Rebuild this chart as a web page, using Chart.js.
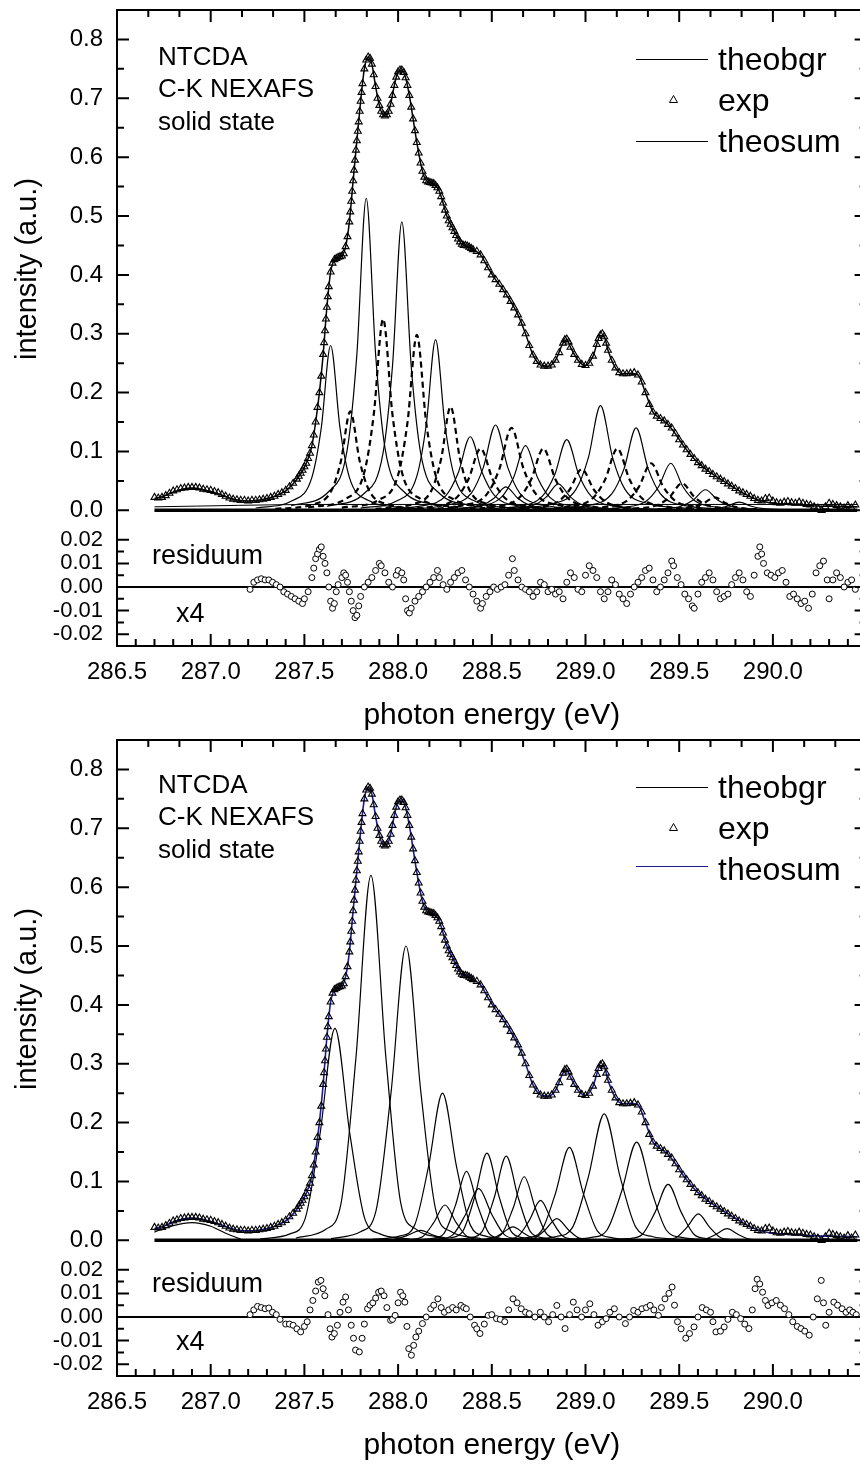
<!DOCTYPE html>
<html>
<head>
<meta charset="utf-8">
<script src="https://cdn.jsdelivr.net/npm/chart.js@4.4.1/dist/chart.umd.min.js"></script>
<style>
body { margin: 0; width: 860px; height: 1464px; overflow: hidden; background: #fff; font-family: "Liberation Sans", Arial, sans-serif; }
canvas { position: absolute; left: 0; }
.txt { position: absolute; white-space: nowrap; line-height: 1; color: #000; }
.lg { position: absolute; height: 0; width: 72px; left: 636px; }
</style>
</head>
<body>
<canvas id="main1" width="880" height="528" style="top:0"></canvas>
<canvas id="res1" width="880" height="206" style="top:528px"></canvas>
<canvas id="main2" width="880" height="528" style="top:730px"></canvas>
<canvas id="res2" width="880" height="206" style="top:1258px"></canvas>

<!-- panel 1 labels -->
<div class="txt" style="left:158px;top:43px;font-size:26px">NTCDA</div>
<div class="txt" style="left:158px;top:75px;font-size:26px">C-K NEXAFS</div>
<div class="txt" style="left:158px;top:108px;font-size:26px">solid state</div>
<div class="lg" style="top:59px;border-top:1px solid #000"></div>
<svg style="position:absolute;left:669px;top:95px" width="9" height="8"><polygon points="4.5,0.5 8.5,7.5 0.5,7.5" fill="none" stroke="#000" stroke-width="1"/></svg>
<div class="lg" style="top:141px;border-top:1.5px solid #000"></div>
<div class="txt" style="left:718px;top:43px;font-size:32px">theobgr</div>
<div class="txt" style="left:718px;top:84px;font-size:32px">exp</div>
<div class="txt" style="left:718px;top:125px;font-size:32px">theosum</div>
<div class="txt" style="left:152px;top:542px;font-size:27px">residuum</div>
<div class="txt" style="left:176px;top:600px;font-size:27px">x4</div>

<!-- panel 2 labels -->
<div class="txt" style="left:158px;top:771px;font-size:26px">NTCDA</div>
<div class="txt" style="left:158px;top:803px;font-size:26px">C-K NEXAFS</div>
<div class="txt" style="left:158px;top:836px;font-size:26px">solid state</div>
<div class="lg" style="top:787px;border-top:1px solid #000"></div>
<svg style="position:absolute;left:669px;top:823px" width="9" height="8"><polygon points="4.5,0.5 8.5,7.5 0.5,7.5" fill="none" stroke="#000" stroke-width="1"/></svg>
<div class="lg" style="top:866px;border-top:1.5px solid #1c1c8c"></div>
<div class="txt" style="left:718px;top:771px;font-size:32px">theobgr</div>
<div class="txt" style="left:718px;top:812px;font-size:32px">exp</div>
<div class="txt" style="left:718px;top:853px;font-size:32px">theosum</div>
<div class="txt" style="left:152px;top:1270px;font-size:27px">residuum</div>
<div class="txt" style="left:176px;top:1328px;font-size:27px">x4</div>

<script>
// axis ticks
const mainYMajor = [0, 0.1, 0.2, 0.3, 0.4, 0.5, 0.6, 0.7, 0.8];
const mainYMinor = [0.05, 0.15, 0.25, 0.35, 0.45, 0.55, 0.65, 0.75];
const resYMajor = [-0.02, -0.01, 0, 0.01, 0.02];
const resYMinor = [-0.015, -0.005, 0.005, 0.015];
const xLabels = [286.5, 287.0, 287.5, 288.0, 288.5, 289.0, 289.5, 290.0];
const xMajor = [286.5, 287.0, 287.5, 288.0, 288.5, 289.0, 289.5, 290.0, 290.5];
const xMinor = [286.6, 286.7, 286.8, 286.9, 287.1, 287.2, 287.3, 287.4, 287.6, 287.7, 287.8, 287.9,
  288.1, 288.2, 288.3, 288.4, 288.6, 288.7, 288.8, 288.9, 289.1, 289.2, 289.3, 289.4,
  289.6, 289.7, 289.8, 289.9, 290.1, 290.2, 290.3, 290.4];
const xTopMinor = [286.667, 286.833, 287.167, 287.333, 287.667, 287.833, 288.167, 288.333,
  288.667, 288.833, 289.167, 289.333, 289.667, 289.833, 290.167, 290.333];

// measured spectrum (photon energy, intensity)
const expData = [
  [286.70,0.022],[286.72,0.021],[286.74,0.022],[286.76,0.025],[286.78,0.029],[286.80,0.033],[286.82,0.035],[286.84,0.037],
  [286.86,0.038],[286.88,0.039],[286.90,0.039],[286.92,0.039],[286.94,0.038],[286.96,0.036],[286.98,0.035],[287.00,0.034],
  [287.02,0.032],[287.04,0.030],[287.06,0.027],[287.08,0.024],[287.10,0.021],[287.12,0.019],[287.14,0.018],[287.16,0.017],
  [287.18,0.017],[287.20,0.016],[287.22,0.017],[287.24,0.017],[287.26,0.018],[287.28,0.019],[287.30,0.020],[287.32,0.022],
  [287.34,0.024],[287.36,0.027],[287.38,0.030],[287.40,0.034],[287.42,0.040],[287.44,0.046],[287.46,0.053],[287.47,0.058],
  [287.48,0.063],[287.49,0.068],[287.50,0.074],[287.51,0.080],[287.52,0.088],[287.53,0.097],[287.54,0.110],[287.55,0.128],
  [287.56,0.150],[287.57,0.175],[287.58,0.200],[287.59,0.228],[287.60,0.265],[287.605,0.285],[287.61,0.305],[287.615,0.325],
  [287.62,0.345],[287.625,0.363],[287.63,0.380],[287.64,0.405],[287.65,0.420],[287.66,0.426],[287.67,0.428],[287.68,0.430],
  [287.69,0.431],[287.70,0.432],[287.71,0.436],[287.72,0.448],[287.73,0.465],[287.74,0.490],[287.745,0.507],[287.75,0.525],
  [287.755,0.542],[287.76,0.560],[287.765,0.578],[287.77,0.595],[287.775,0.612],[287.78,0.628],[287.785,0.644],[287.79,0.660],
  [287.795,0.678],[287.80,0.695],[287.805,0.710],[287.81,0.725],[287.82,0.750],[287.83,0.765],[287.84,0.770],[287.85,0.768],
  [287.86,0.758],[287.87,0.740],[287.88,0.720],[287.89,0.700],[287.90,0.688],[287.91,0.678],[287.92,0.672],[287.93,0.670],
  [287.94,0.672],[287.95,0.678],[287.96,0.690],[287.97,0.705],[287.98,0.722],[287.99,0.736],[288.00,0.745],[288.01,0.748],
  [288.02,0.748],[288.03,0.744],[288.04,0.735],[288.05,0.722],[288.06,0.705],[288.07,0.685],[288.08,0.665],[288.09,0.645],
  [288.10,0.625],[288.11,0.607],[288.12,0.590],[288.13,0.576],[288.14,0.566],[288.15,0.560],[288.16,0.558],[288.17,0.557],
  [288.18,0.556],[288.19,0.555],[288.20,0.552],[288.21,0.548],[288.22,0.542],[288.23,0.533],[288.24,0.522],[288.25,0.510],
  [288.26,0.500],[288.27,0.492],[288.28,0.486],[288.29,0.480],[288.30,0.474],[288.31,0.467],[288.32,0.461],[288.33,0.456],
  [288.34,0.452],[288.35,0.450],[288.36,0.450],[288.37,0.449],[288.38,0.447],[288.39,0.445],[288.40,0.443],[288.42,0.440],
  [288.44,0.434],[288.46,0.424],[288.48,0.412],[288.50,0.400],[288.52,0.392],[288.54,0.384],[288.56,0.375],[288.58,0.366],
  [288.60,0.355],[288.62,0.344],[288.64,0.332],[288.66,0.318],[288.68,0.300],[288.70,0.280],[288.72,0.264],[288.74,0.253],
  [288.76,0.247],[288.78,0.245],[288.80,0.245],[288.82,0.247],[288.84,0.255],[288.86,0.268],[288.88,0.284],[288.89,0.290],
  [288.90,0.291],[288.91,0.286],[288.92,0.277],[288.94,0.265],[288.96,0.255],[288.98,0.248],[289.00,0.246],[289.02,0.250],
  [289.04,0.262],[289.06,0.282],[289.07,0.292],[289.08,0.298],[289.09,0.300],[289.10,0.295],[289.11,0.284],[289.12,0.272],
  [289.14,0.255],[289.16,0.242],[289.18,0.234],[289.20,0.232],[289.22,0.232],[289.24,0.233],[289.26,0.234],[289.28,0.230],
  [289.30,0.218],[289.32,0.200],[289.34,0.180],[289.36,0.167],[289.38,0.160],[289.40,0.156],[289.42,0.152],[289.44,0.146],
  [289.46,0.140],[289.48,0.130],[289.50,0.120],[289.52,0.111],[289.54,0.103],[289.56,0.095],[289.58,0.088],[289.60,0.081],
  [289.62,0.076],[289.64,0.070],[289.66,0.066],[289.68,0.061],[289.70,0.057],[289.72,0.053],[289.74,0.049],[289.76,0.045],
  [289.78,0.041],[289.80,0.037],[289.82,0.033],[289.84,0.030],[289.86,0.027],[289.88,0.024],[289.90,0.020],[289.92,0.017],
  [289.94,0.016],[289.96,0.020],[289.98,0.021],[290.00,0.016],[290.02,0.013],[290.04,0.012],[290.06,0.014],[290.08,0.015],
  [290.10,0.013],[290.12,0.012],[290.14,0.014],[290.16,0.012],[290.18,0.010],[290.20,0.009],[290.22,0.006],[290.24,0.004],
  [290.26,0.000],[290.28,0.006],[290.30,0.012],[290.32,0.010],[290.34,0.008],[290.36,0.006],[290.38,0.004],[290.40,0.008],
  [290.42,0.004],[290.44,0.009]
];

// fitted sum
const theoSum = [
  [286.70,0.020],[286.75,0.024],[286.80,0.031],[286.85,0.036],[286.90,0.038],[286.95,0.036],[287.00,0.032],[287.05,0.027],
  [287.10,0.021],[287.15,0.017],[287.20,0.016],[287.25,0.017],[287.30,0.020],[287.35,0.025],[287.40,0.033],[287.44,0.045],
  [287.48,0.062],[287.50,0.073],[287.52,0.088],[287.54,0.110],[287.56,0.150],[287.58,0.200],[287.60,0.265],[287.62,0.345],
  [287.64,0.405],[287.66,0.426],[287.68,0.430],[287.70,0.432],[287.72,0.448],[287.74,0.490],[287.76,0.560],[287.78,0.628],
  [287.80,0.695],[287.82,0.750],[287.84,0.770],[287.86,0.758],[287.88,0.720],[287.90,0.688],[287.92,0.672],[287.94,0.672],
  [287.96,0.690],[287.98,0.722],[288.00,0.745],[288.02,0.748],[288.04,0.735],[288.06,0.705],[288.08,0.665],[288.10,0.625],
  [288.12,0.590],[288.14,0.566],[288.16,0.558],[288.18,0.556],[288.20,0.552],[288.22,0.542],[288.24,0.522],[288.26,0.500],
  [288.28,0.486],[288.30,0.474],[288.32,0.461],[288.34,0.452],[288.36,0.450],[288.38,0.447],[288.40,0.443],[288.44,0.434],
  [288.48,0.412],[288.52,0.392],[288.56,0.375],[288.60,0.355],[288.64,0.332],[288.68,0.300],[288.72,0.264],[288.76,0.247],
  [288.80,0.245],[288.84,0.255],[288.88,0.284],[288.90,0.290],[288.92,0.277],[288.96,0.255],[289.00,0.246],[289.04,0.262],
  [289.08,0.297],[289.10,0.295],[289.12,0.272],[289.16,0.242],[289.20,0.232],[289.24,0.233],[289.28,0.230],[289.32,0.200],
  [289.36,0.167],[289.40,0.156],[289.44,0.146],[289.48,0.130],[289.52,0.111],[289.56,0.095],[289.60,0.081],[289.65,0.068],
  [289.70,0.057],[289.75,0.047],[289.80,0.037],[289.85,0.028],[289.90,0.020],[289.95,0.015],[290.00,0.012],[290.10,0.010],
  [290.20,0.008],[290.30,0.007],[290.45,0.006]
];

const theoBgr1 = [[286.70,0.006],[287.60,0.010],[290.45,0.010]];
const baseLine = [[286.70,0],[290.45,0]];
const zeroLine = [[286.5,0],[290.5,0]];

// upper fit: solid components
const solid1 = [
  [[287.24,0.004],[287.44,0.017],[287.54,0.056],[287.59,0.14],[287.64,0.28],[287.69,0.14],[287.74,0.056],[287.84,0.017],[288.04,0.004]],
  [[287.43,0.008],[287.63,0.032],[287.73,0.106],[287.78,0.265],[287.83,0.53],[287.88,0.265],[287.93,0.106],[288.03,0.032],[288.23,0.008]],
  [[287.62,0.007],[287.82,0.029],[287.92,0.098],[287.97,0.245],[288.02,0.49],[288.07,0.245],[288.12,0.098],[288.22,0.029],[288.42,0.007]],
  [[287.80,0.004],[288.00,0.017],[288.10,0.058],[288.15,0.145],[288.20,0.29],[288.25,0.145],[288.30,0.058],[288.40,0.017],[288.60,0.004]],
  [[287.885,0.002],[288.125,0.0075],[288.255,0.025],[288.32,0.063],[288.385,0.125],[288.45,0.063],[288.515,0.025],[288.645,0.0075],[288.885,0.002]],
  [[288.02,0.002],[288.26,0.009],[288.39,0.029],[288.455,0.073],[288.52,0.145],[288.585,0.073],[288.65,0.029],[288.78,0.009],[289.02,0.002]],
  [[288.18,0.002],[288.42,0.007],[288.55,0.022],[288.615,0.055],[288.68,0.11],[288.745,0.055],[288.81,0.022],[288.94,0.007],[289.18,0.002]],
  [[288.40,0.002],[288.64,0.007],[288.77,0.024],[288.835,0.06],[288.90,0.12],[288.965,0.06],[289.03,0.024],[289.16,0.007],[289.40,0.002]],
  [[288.58,0.003],[288.82,0.011],[288.95,0.036],[289.015,0.089],[289.08,0.178],[289.145,0.089],[289.21,0.036],[289.34,0.011],[289.58,0.003]],
  [[288.77,0.002],[289.01,0.008],[289.14,0.028],[289.205,0.07],[289.27,0.14],[289.335,0.07],[289.40,0.028],[289.53,0.008],[289.77,0.002]],
  [[288.955,0.001],[289.195,0.005],[289.325,0.016],[289.39,0.04],[289.455,0.08],[289.52,0.04],[289.585,0.016],[289.715,0.005],[289.955,0.001]],
  [[289.38,0.002],[289.51,0.007],[289.575,0.0175],[289.64,0.035],[289.705,0.0175],[289.77,0.007],[289.90,0.002]],
  [[289.56,0.001],[289.69,0.003],[289.755,0.007],[289.82,0.014],[289.885,0.007],[289.95,0.003],[290.08,0.001]],
  [[288.315,0.002],[288.445,0.008],[288.51,0.02],[288.575,0.04],[288.64,0.02],[288.705,0.008],[288.835,0.002]],
  [[288.595,0.003],[288.725,0.009],[288.79,0.0225],[288.855,0.045],[288.92,0.0225],[288.985,0.009],[289.115,0.003]]
];

// upper fit: dashed components
const dashed1 = [
  [[287.345,0.0025],[287.545,0.01],[287.645,0.034],[287.695,0.084],[287.745,0.168],[287.795,0.084],[287.845,0.034],[287.945,0.01],[288.145,0.0025]],
  [[287.52,0.005],[287.72,0.0195],[287.82,0.065],[287.87,0.1625],[287.92,0.325],[287.97,0.1625],[288.02,0.065],[288.12,0.0195],[288.32,0.005]],
  [[287.70,0.0045],[287.90,0.018],[288.00,0.06],[288.05,0.149],[288.10,0.298],[288.15,0.149],[288.20,0.06],[288.30,0.018],[288.50,0.0045]],
  [[287.88,0.0026],[288.08,0.0106],[288.18,0.035],[288.23,0.088],[288.28,0.176],[288.33,0.088],[288.38,0.035],[288.48,0.0106],[288.68,0.0026]],
  [[287.94,0.0016],[288.18,0.0063],[288.31,0.021],[288.375,0.0525],[288.44,0.105],[288.505,0.0525],[288.57,0.021],[288.70,0.0063],[288.94,0.0016]],
  [[288.105,0.002],[288.345,0.0084],[288.475,0.028],[288.54,0.07],[288.605,0.14],[288.67,0.07],[288.735,0.028],[288.865,0.0084],[289.105,0.002]],
  [[288.275,0.0016],[288.515,0.0063],[288.645,0.021],[288.71,0.0525],[288.775,0.105],[288.84,0.0525],[288.905,0.021],[289.035,0.0063],[289.275,0.0016]],
  [[288.72,0.004],[288.85,0.014],[288.915,0.035],[288.98,0.07],[289.045,0.035],[289.11,0.014],[289.24,0.004]],
  [[288.67,0.0016],[288.91,0.0063],[289.04,0.021],[289.105,0.0525],[289.17,0.105],[289.235,0.0525],[289.30,0.021],[289.43,0.0063],[289.67,0.0016]],
  [[289.09,0.005],[289.22,0.016],[289.285,0.04],[289.35,0.08],[289.415,0.04],[289.48,0.016],[289.61,0.005]],
  [[289.255,0.003],[289.385,0.009],[289.45,0.023],[289.515,0.046],[289.58,0.023],[289.645,0.009],[289.775,0.003]],
  [[289.43,0.0013],[289.56,0.0044],[289.625,0.011],[289.69,0.022],[289.755,0.011],[289.82,0.0044],[289.95,0.0013]]
];

// lower fit: components
const solid2 = [
  [[286.70,0.014],[286.80,0.025],[286.90,0.030],[287.00,0.024],[287.08,0.012],[287.16,0.002]],
  [[287.263,0.002],[287.423,0.011],[287.503,0.036],[287.583,0.18],[287.663,0.36],[287.743,0.18],[287.823,0.036],[287.903,0.011],[288.063,0.002]],
  [[287.455,0.004],[287.615,0.019],[287.695,0.062],[287.775,0.31],[287.855,0.62],[287.935,0.31],[288.015,0.062],[288.095,0.019],[288.255,0.004]],
  [[287.642,0.003],[287.802,0.015],[287.882,0.05],[287.962,0.25],[288.042,0.5],[288.122,0.25],[288.202,0.05],[288.282,0.015],[288.442,0.003]],
  [[287.862,0.0015],[288.012,0.0075],[288.087,0.025],[288.162,0.125],[288.237,0.25],[288.312,0.125],[288.387,0.025],[288.462,0.0075],[288.612,0.0015]],
  [[287.91,0.0005],[287.98,0.0017],[288.05,0.0085],[288.12,0.017],[288.19,0.0085],[288.26,0.0017],[288.33,0.0005]],
  [[287.95,0.0004],[288.07,0.0018],[288.13,0.006],[288.19,0.03],[288.25,0.06],[288.31,0.03],[288.37,0.006],[288.43,0.0018],[288.55,0.0004]],
  [[288.065,0.0007],[288.185,0.0035],[288.245,0.0117],[288.305,0.0585],[288.365,0.117],[288.425,0.0585],[288.485,0.0117],[288.545,0.0035],[288.665,0.0007]],
  [[288.08,0.0005],[288.22,0.0026],[288.29,0.0088],[288.36,0.044],[288.43,0.088],[288.50,0.044],[288.57,0.0088],[288.64,0.0026],[288.78,0.0005]],
  [[288.149,0.0009],[288.279,0.0044],[288.344,0.0148],[288.409,0.074],[288.474,0.148],[288.539,0.074],[288.604,0.0148],[288.669,0.0044],[288.799,0.0009]],
  [[288.252,0.0009],[288.382,0.0043],[288.447,0.0143],[288.512,0.0715],[288.577,0.143],[288.642,0.0715],[288.707,0.0143],[288.772,0.0043],[288.902,0.0009]],
  [[288.433,0.0007],[288.493,0.0023],[288.553,0.0115],[288.613,0.023],[288.673,0.0115],[288.733,0.0023],[288.793,0.0007]],
  [[288.373,0.0006],[288.493,0.0032],[288.553,0.0108],[288.613,0.054],[288.673,0.108],[288.733,0.054],[288.793,0.0108],[288.853,0.0032],[288.973,0.0006]],
  [[288.46,0.0004],[288.58,0.002],[288.64,0.0068],[288.70,0.034],[288.76,0.068],[288.82,0.034],[288.88,0.0068],[288.94,0.002],[289.06,0.0004]],
  [[288.667,0.0011],[288.727,0.0037],[288.787,0.0185],[288.847,0.037],[288.907,0.0185],[288.967,0.0037],[289.027,0.0011]],
  [[288.539,0.001],[288.689,0.0047],[288.764,0.0158],[288.839,0.079],[288.914,0.158],[288.989,0.079],[289.064,0.0158],[289.139,0.0047],[289.289,0.001]],
  [[288.675,0.0013],[288.845,0.0065],[288.93,0.0215],[289.015,0.1075],[289.10,0.215],[289.185,0.1075],[289.27,0.0215],[289.355,0.0065],[289.525,0.0013]],
  [[288.873,0.001],[289.033,0.005],[289.113,0.0167],[289.193,0.0835],[289.273,0.167],[289.353,0.0835],[289.433,0.0167],[289.513,0.005],[289.673,0.001]],
  [[289.091,0.0006],[289.231,0.0029],[289.301,0.0095],[289.371,0.0475],[289.441,0.095],[289.511,0.0475],[289.581,0.0095],[289.651,0.0029],[289.791,0.0006]],
  [[289.422,0.0014],[289.482,0.0045],[289.542,0.0225],[289.602,0.045],[289.662,0.0225],[289.722,0.0045],[289.782,0.0014]],
  [[289.575,0.0006],[289.635,0.002],[289.695,0.01],[289.755,0.02],[289.815,0.01],[289.875,0.002],[289.935,0.0006]]
];

// residuals (x4)
const resid1 = [
  [287.21,-0.001],[287.23,0.002],[287.25,0.003],[287.27,0.0035],[287.29,0.003],[287.31,0.003],[287.33,0.002],[287.35,0.001],
  [287.37,0.000],[287.39,-0.002],[287.41,-0.003],[287.43,-0.004],[287.45,-0.005],[287.47,-0.006],[287.49,-0.007],[287.50,-0.005],
  [287.52,-0.002],[287.54,0.004],[287.55,0.008],[287.56,0.012],[287.57,0.014],[287.58,0.016],[287.59,0.017],[287.60,0.013],
  [287.61,0.010],[287.62,0.006],[287.63,0.000],[287.64,-0.006],[287.65,-0.009],[287.66,-0.007],[287.67,-0.002],[287.68,0.001],
  [287.70,0.004],[287.71,0.006],[287.72,0.005],[287.73,0.002],[287.74,-0.002],[287.75,-0.006],[287.76,-0.010],[287.77,-0.013],
  [287.78,-0.012],[287.79,-0.008],[287.80,-0.004],[287.82,0.000],[287.84,0.002],[287.86,0.004],[287.88,0.007],[287.90,0.010],
  [287.91,0.009],[287.93,0.006],[287.95,0.002],[287.97,0.000],[287.99,0.005],[288.00,0.007],[288.02,0.006],[288.03,0.003],
  [288.04,-0.005],[288.05,-0.010],[288.06,-0.011],[288.07,-0.009],[288.09,-0.006],[288.11,-0.004],[288.13,-0.002],[288.15,0.000],
  [288.17,0.002],[288.19,0.004],[288.21,0.007],[288.22,0.004],[288.24,0.001],[288.26,-0.001],[288.28,0.002],[288.30,0.004],
  [288.32,0.006],[288.34,0.007],[288.36,0.003],[288.38,0.000],[288.40,-0.003],[288.42,-0.006],[288.44,-0.009],[288.45,-0.007],
  [288.47,-0.004],[288.49,-0.002],[288.51,0.000],[288.53,-0.001],[288.55,0.000],[288.57,0.001],[288.59,0.005],[288.61,0.012],
  [288.62,0.007],[288.64,0.003],[288.66,0.000],[288.68,-0.001],[288.70,-0.002],[288.72,-0.004],[288.74,-0.002],[288.76,0.002],
  [288.78,0.001],[288.80,-0.002],[288.82,-0.001],[288.84,-0.003],[288.86,-0.002],[288.88,-0.005],[288.90,0.002],[288.92,0.006],
  [288.94,0.004],[288.96,-0.001],[288.98,-0.002],[289.00,0.005],[289.02,0.009],[289.04,0.007],[289.06,0.004],[289.08,-0.002],
  [289.10,-0.005],[289.12,-0.002],[289.14,0.003],[289.16,0.001],[289.18,-0.003],[289.20,-0.005],[289.22,-0.007],[289.24,-0.003],
  [289.26,0.000],[289.28,0.002],[289.30,0.004],[289.32,0.007],[289.34,0.008],[289.36,0.003],[289.38,-0.002],[289.40,0.000],
  [289.42,0.003],[289.44,0.006],[289.46,0.011],[289.47,0.009],[289.49,0.004],[289.51,0.001],[289.53,-0.003],[289.55,-0.005],
  [289.57,-0.008],[289.58,-0.009],[289.60,-0.003],[289.62,0.002],[289.64,0.004],[289.66,0.006],[289.68,0.003],[289.70,-0.002],
  [289.72,-0.005],[289.74,-0.004],[289.76,-0.003],[289.78,0.001],[289.80,0.004],[289.82,0.006],[289.84,0.003],[289.86,-0.002],
  [289.88,-0.004],[289.90,0.005],[289.92,0.013],[289.93,0.017],[289.94,0.014],[289.95,0.010],[289.97,0.006],[289.99,0.005],
  [290.01,0.004],[290.03,0.006],[290.05,0.007],[290.07,0.002],[290.09,-0.004],[290.11,-0.003],[290.13,-0.005],[290.15,-0.007],
  [290.17,-0.006],[290.19,-0.009],[290.21,-0.003],[290.23,0.006],[290.25,0.009],[290.27,0.011],[290.29,0.003],[290.30,-0.005],
  [290.32,0.003],[290.34,0.006],[290.36,0.004],[290.38,0.000],[290.40,0.002],[290.42,0.003],[290.44,-0.001]
];

const resid2 = [
  [287.21,0.001],[287.23,0.003],[287.25,0.0045],[287.27,0.004],[287.29,0.0035],[287.31,0.0038],[287.33,0.002],[287.35,0.001],
  [287.37,-0.001],[287.40,-0.003],[287.42,-0.003],[287.44,-0.0035],[287.46,-0.005],[287.48,-0.0063],[287.50,-0.004],[287.515,-0.002],
  [287.53,0.003],[287.545,0.007],[287.56,0.011],[287.574,0.0148],[287.588,0.0155],[287.60,0.012],[287.609,0.009],[287.626,0.001],
  [287.637,-0.005],[287.647,-0.0085],[287.66,-0.007],[287.676,-0.0035],[287.69,0.002],[287.706,0.0063],[287.72,0.0085],[287.735,0.003],
  [287.75,-0.0035],[287.762,-0.009],[287.773,-0.014],[287.793,-0.0148],[287.808,-0.009],[287.82,-0.003],[287.837,0.0035],[287.85,0.005],
  [287.865,0.006],[287.88,0.008],[287.896,0.0105],[287.91,0.011],[287.925,0.009],[287.94,0.004],[287.96,-0.0014],[287.97,-0.001],
  [287.984,0.0007],[288.00,0.006],[288.013,0.0105],[288.025,0.009],[288.036,0.0063],[288.047,-0.004],[288.057,-0.0134],[288.071,-0.0162],
  [288.083,-0.012],[288.095,-0.0085],[288.11,-0.006],[288.13,-0.0028],[288.15,0.000],[288.174,0.0035],[288.19,0.005],[288.212,0.0077],
  [288.23,0.004],[288.247,0.002],[288.27,0.003],[288.291,0.004],[288.31,0.003],[288.335,0.0049],[288.35,0.004],[288.364,0.0035],
  [288.385,0.000],[288.408,-0.0035],[288.42,-0.005],[288.437,-0.007],[288.46,-0.003],[288.481,0.0007],[288.50,0.001],[288.525,-0.0007],
  [288.545,-0.001],[288.569,-0.002],[288.59,0.003],[288.613,0.0077],[288.635,0.006],[288.657,0.0035],[288.68,0.002],[288.70,0.0014],
  [288.73,0.000],[288.759,0.002],[288.78,0.000],[288.803,-0.002],[288.825,0.001],[288.847,0.0049],[288.87,0.000],[288.891,-0.0049],
  [288.915,0.001],[288.935,0.0063],[288.955,0.003],[288.979,0.000],[289.00,0.003],[289.023,0.0056],[289.045,0.001],[289.067,-0.0035],
  [289.09,-0.002],[289.11,-0.0007],[289.13,0.002],[289.154,0.0035],[289.18,0.000],[289.213,-0.0028],[289.235,0.000],[289.257,0.0028],
  [289.28,0.002],[289.301,0.0035],[289.325,0.004],[289.345,0.0049],[289.365,0.003],[289.389,0.0007],[289.405,0.004],[289.424,0.0077],
  [289.445,0.010],[289.462,0.0127],[289.475,0.005],[289.491,-0.002],[289.51,-0.005],[289.535,-0.009],[289.555,-0.007],[289.579,-0.0042],
  [289.60,0.000],[289.623,0.004],[289.645,0.003],[289.667,0.002],[289.68,-0.002],[289.696,-0.0063],[289.72,-0.006],[289.74,-0.0042],
  [289.76,-0.001],[289.784,0.002],[289.805,0.001],[289.828,-0.0007],[289.85,-0.003],[289.872,-0.0049],[289.89,0.003],[289.905,0.012],
  [289.916,0.016],[289.93,0.014],[289.945,0.0105],[289.96,0.007],[289.974,0.0049],[289.995,0.006],[290.018,0.007],[290.04,0.005],
  [290.062,0.0035],[290.085,0.001],[290.106,-0.002],[290.13,-0.004],[290.15,-0.0049],[290.17,-0.006],[290.194,-0.0077],[290.215,0.000],
  [290.237,0.0077],[290.258,0.0155],[290.27,0.006],[290.282,-0.0035],[290.30,0.002],[290.325,0.0063],[290.345,0.005],[290.369,0.0035],
  [290.39,0.002],[290.41,0.003],[290.427,0.002],[290.445,0.001]
];

Chart.defaults.font.family = '"Liberation Sans", Arial, sans-serif';
Chart.defaults.color = '#000';

// frame and inward tick marks, placed with the chart's own scales
const frameTicks = {
  id: 'frameTicks',
  afterDatasetsDraw(chart, args, o) {
    const { ctx, chartArea: a } = chart;
    const x = chart.scales.x, y = chart.scales.y;
    ctx.save();
    ctx.strokeStyle = '#000';
    ctx.lineWidth = 2;
    ctx.beginPath();
    if (o.left) { ctx.moveTo(a.left, a.top); ctx.lineTo(a.left, a.bottom); }
    if (o.right) { ctx.moveTo(a.right, a.top); ctx.lineTo(a.right, a.bottom); }
    if (o.top) { ctx.moveTo(a.left - 1, a.top); ctx.lineTo(a.right, a.top); }
    if (o.bottom) { ctx.moveTo(a.left - 1, a.bottom); ctx.lineTo(a.right, a.bottom); }
    ctx.stroke();

    ctx.beginPath();
    const vert = (t, x0, dir) => {
      t.major.forEach(v => { const p = y.getPixelForValue(v); ctx.moveTo(x0, p); ctx.lineTo(x0 + dir * 12, p); });
      t.minor.forEach(v => { const p = y.getPixelForValue(v); ctx.moveTo(x0, p); ctx.lineTo(x0 + dir * 7, p); });
    };
    const horz = (t, y0, dir) => {
      t.major.forEach(v => { const p = x.getPixelForValue(v); ctx.moveTo(p, y0); ctx.lineTo(p, y0 + dir * 12); });
      t.minor.forEach(v => { const p = x.getPixelForValue(v); ctx.moveTo(p, y0); ctx.lineTo(p, y0 + dir * 7); });
    };
    if (o.left) vert(o.left, a.left, 1);
    if (o.right) vert(o.right, a.right, -1);
    if (o.top) horz(o.top, a.top, 1);
    if (o.bottom) horz(o.bottom, a.bottom, -1);
    ctx.stroke();
    ctx.restore();
  }
};

function curve(data, extra) {
  return Object.assign({
    data: data, showLine: true, pointRadius: 0, borderColor: '#000', borderWidth: 1.2,
    cubicInterpolationMode: 'monotone', fill: false
  }, extra || {});
}

function mainChart(id, datasets) {
  new Chart(document.getElementById(id), {
    type: 'scatter',
    data: { datasets: datasets },
    plugins: [frameTicks],
    options: {
      responsive: false,
      animation: false,
      events: [],
      layout: { padding: { top: 10, right: 13.4, bottom: 0, left: 0 }, autoPadding: false },
      plugins: {
        legend: { display: false },
        tooltip: { enabled: false },
        frameTicks: {
          left: { major: mainYMajor, minor: mainYMinor },
          right: { major: mainYMajor, minor: mainYMinor },
          top: { major: xMajor, minor: xTopMinor }
        }
      },
      scales: {
        x: { type: 'linear', min: 286.5, max: 290.5, display: false },
        y: {
          type: 'linear', min: -0.03, max: 0.85,
          afterBuildTicks: s => { s.ticks = mainYMajor.map(v => ({ value: v })); },
          afterFit: s => { s.width = 117; s.paddingTop = 0; s.paddingBottom = 0; },
          grid: { display: false, drawTicks: false },
          border: { display: false },
          ticks: { autoSkip: false, padding: 14, font: { size: 24 }, callback: v => v.toFixed(1) },
          title: { display: true, text: 'intensity (a.u.)', font: { size: 29, lineHeight: 1 }, padding: { top: 13, bottom: 0 } }
        }
      }
    }
  });
}

function residChart(id, points) {
  new Chart(document.getElementById(id), {
    type: 'scatter',
    data: {
      datasets: [
        { data: points, pointStyle: 'circle', pointRadius: 3, borderWidth: 1, borderColor: '#000', backgroundColor: '#fff' },
        curve(zeroLine, { borderWidth: 2.2, cubicInterpolationMode: 'default', tension: 0 })
      ]
    },
    plugins: [frameTicks],
    options: {
      responsive: false,
      animation: false,
      events: [],
      layout: { padding: { top: 0, right: 13.4, bottom: 0, left: 0 }, autoPadding: false },
      plugins: {
        legend: { display: false },
        tooltip: { enabled: false },
        frameTicks: {
          left: { major: resYMajor, minor: resYMinor },
          right: { major: resYMajor, minor: resYMinor },
          bottom: { major: xMajor, minor: xMinor }
        }
      },
      scales: {
        x: {
          type: 'linear', min: 286.5, max: 290.5,
          afterBuildTicks: s => { s.ticks = xLabels.map(v => ({ value: v })); },
          afterFit: s => { s.height = 88; s.paddingLeft = 0; s.paddingRight = 0; },
          grid: { display: false, drawTicks: false },
          border: { display: false },
          ticks: { autoSkip: false, maxRotation: 0, padding: 12, font: { size: 24 }, callback: v => v.toFixed(1) },
          title: { display: true, text: 'photon energy (eV)', font: { size: 30, lineHeight: 1 }, padding: { top: 0, bottom: 3 } }
        },
        y: {
          type: 'linear', min: -0.025, max: 0.025,
          afterBuildTicks: s => { s.ticks = resYMajor.map(v => ({ value: v })); },
          afterFit: s => { s.width = 117; s.paddingTop = 0; s.paddingBottom = 0; },
          grid: { display: false, drawTicks: false },
          border: { display: false },
          ticks: { autoSkip: false, padding: 14, font: { size: 22 }, callback: v => v.toFixed(2) }
        }
      }
    }
  });
}

const expSet = {
  data: expData, pointStyle: 'triangle', pointRadius: 4, borderWidth: 1.1,
  borderColor: '#000', backgroundColor: 'rgba(255,255,255,0)'
};

mainChart('main1', [
  expSet,
  curve(theoSum, { borderWidth: 1.5 }),
  curve(theoBgr1, { borderWidth: 1 }),
  ...solid1.map(p => curve(p)),
  ...dashed1.map(p => curve(p, { borderWidth: 2.2, borderDash: [6, 4] })),
  curve(baseLine, { borderWidth: 3.5, cubicInterpolationMode: 'default', tension: 0 })
]);
residChart('res1', resid1);

mainChart('main2', [
  Object.assign({}, expSet),
  curve(theoSum, { borderWidth: 1.6, borderColor: '#1c1c8c' }),
  ...solid2.map(p => curve(p)),
  curve(baseLine, { borderWidth: 3.5, cubicInterpolationMode: 'default', tension: 0 })
]);
residChart('res2', resid2);
</script>
</body>
</html>
